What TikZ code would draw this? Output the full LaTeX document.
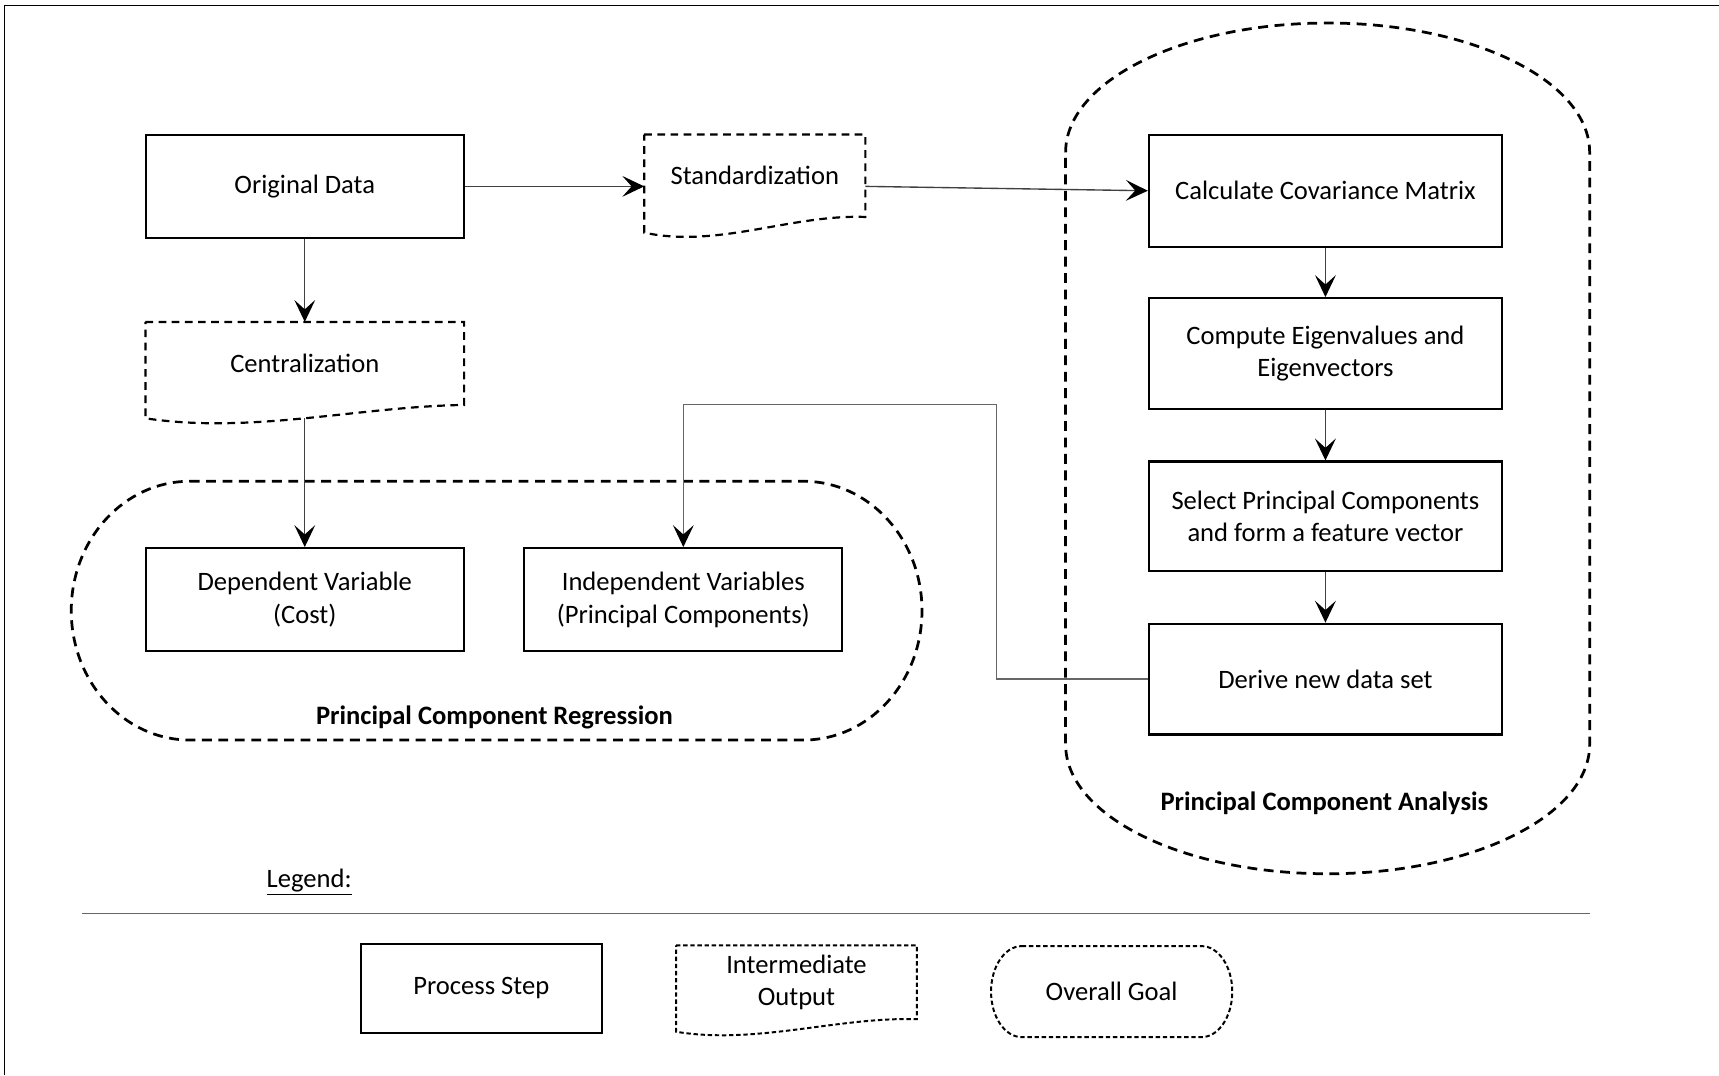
\documentclass[tikz,border=0pt]{standalone}
\usepackage{fontspec}
\setmainfont{Carlito}
\usepackage{tikz}
\usetikzlibrary{arrows.meta}

\tikzset{
  procbox/.style={draw, line width=0.4mm, align=center, inner sep=0pt},
  outbox/.style={align=center, inner sep=0pt},
  outline/.style={line width=0.4mm, dash pattern=on 1.4mm off 1mm},
  goalline/.style={line width=0.5mm, dash pattern=on 1.8mm off 1.2mm},
  legline/.style={line width=0.36mm, dash pattern=on 0.8mm off 0.5mm},
  conn/.style={draw=black!75, line width=0.25mm, -{Stealth[length=4mm, width=3.8mm, inset=1.7mm, color=black]}},
  title/.style={font=\fontsize{13.8}{17}\selectfont\bfseries}
}

\begin{document}
\begin{tikzpicture}[x=0.2mm, y=-0.2mm, font=\fontsize{13.8}{17}\selectfont]
  \useasboundingbox (0,0) rectangle (1568,981);
  \draw[line width=0.3mm] (4,981) -- (4,5) -- (1568,5);

  % left column
  \node[procbox, minimum width=58mm, minimum height=18.8mm] (od) at (278,170) {Original Data};
  \node[outbox, minimum width=40.2mm, minimum height=14.9mm] (std) at (688.5,160.3) {Standardization};
  \node[outbox, minimum width=58mm, minimum height=15mm] (cen) at (278,331.5) {Centralization};
  \node[procbox, minimum width=58mm, minimum height=18.8mm] (dep) at (278,547) {Dependent Variable\\(Cost)};
  \node[procbox, minimum width=58mm, minimum height=18.8mm] (ind) at (623.3,547) {Independent Variables\\(Principal Components)};

  \draw[outline] (std.north west) -- (std.north east) -- (std.south east)
    .. controls +(-67,-2.6) and +(67,14.5) .. ([yshift=-2.86mm]std.south west) -- cycle;
  \draw[outline] (cen.north west) -- (cen.north east) -- (cen.south east)
    .. controls +(-97,1.6) and +(97,14.6) .. ([yshift=-2.44mm]cen.south west) -- cycle;

  % PCA steps
  \node[procbox, minimum width=64.4mm, minimum height=20.4mm] (cov) at (1209,174) {Calculate Covariance Matrix};
  \node[procbox, minimum width=64.4mm, minimum height=20.2mm] (eig) at (1209,322.5) {Compute Eigenvalues and\\Eigenvectors};
  \node[procbox, minimum width=64.4mm, minimum height=20mm] (sel) at (1209,471) {Select Principal Components\\and form a feature vector};
  \node[procbox, minimum width=64.4mm, minimum height=20.2mm] (der) at (1209,619.5) {Derive new data set};

  % goals
  \draw[goalline] (972,139) arc[start angle=180, end angle=270, x radius=239, y radius=118]
    arc[start angle=270, end angle=360, x radius=239, y radius=118] -- (1450,679)
    arc[start angle=0, end angle=90, x radius=239, y radius=118]
    arc[start angle=90, end angle=180, x radius=239, y radius=118] -- cycle;
  \node[title] (pcalabel) at (1208,733) {Principal Component Analysis};
  \draw[goalline] (173,439) -- (733,439) arc[start angle=270, end angle=360, x radius=108, y radius=118]
    arc[start angle=0, end angle=90, x radius=108, y radius=118] -- (173,675)
    arc[start angle=90, end angle=180, x radius=108, y radius=118]
    arc[start angle=180, end angle=270, x radius=108, y radius=118] -- cycle;
  \node[title] (pcrlabel) at (451,654) {Principal Component Regression};

  % connectors
  \draw[conn] (od.east) -- (od.east -| std.west);
  \draw[conn] (std.east |- od) -- (cov.west);
  \draw[conn] (od.south) -- (cen.north);
  \draw[conn] ([yshift=-2.44mm]cen.south) -- (dep.north);
  \draw[conn] (cov.south) -- (eig.north);
  \draw[conn] (eig.south) -- (sel.north);
  \draw[conn] (sel.south) -- (der.north);
  \coordinate (bend) at (909,369);
  \draw[conn, draw=black!60] (der.west) -| (bend) -| (ind.north);

  % legend
  \node (leg) at (282,805) {\underline{Legend:}};
  \draw[draw=black!60, line width=0.25mm] (75,833) -- (1450,833);
  \node[procbox, minimum width=44mm, minimum height=16.2mm] (lproc) at (439,901.5) {Process Step};
  \node[outbox, minimum width=43.8mm, minimum height=13.3mm] (lout) at (726.5,896) {Intermediate\\Output};
  \draw[legline] (lout.north west) -- (lout.north east) -- (lout.south east)
    .. controls +(-73,-2) and +(73,12) .. ([yshift=-2.3mm]lout.south west) -- cycle;
  \node[outbox, minimum width=44mm, minimum height=16.6mm] (lgoal) at (1014,904.5) {Overall Goal};
  \draw[legline] (932,863) -- (1096,863) arc[start angle=270, end angle=360, x radius=28, y radius=41.5]
    arc[start angle=0, end angle=90, x radius=28, y radius=41.5] -- (932,946)
    arc[start angle=90, end angle=180, x radius=28, y radius=41.5]
    arc[start angle=180, end angle=270, x radius=28, y radius=41.5] -- cycle;
\end{tikzpicture}
\end{document}
